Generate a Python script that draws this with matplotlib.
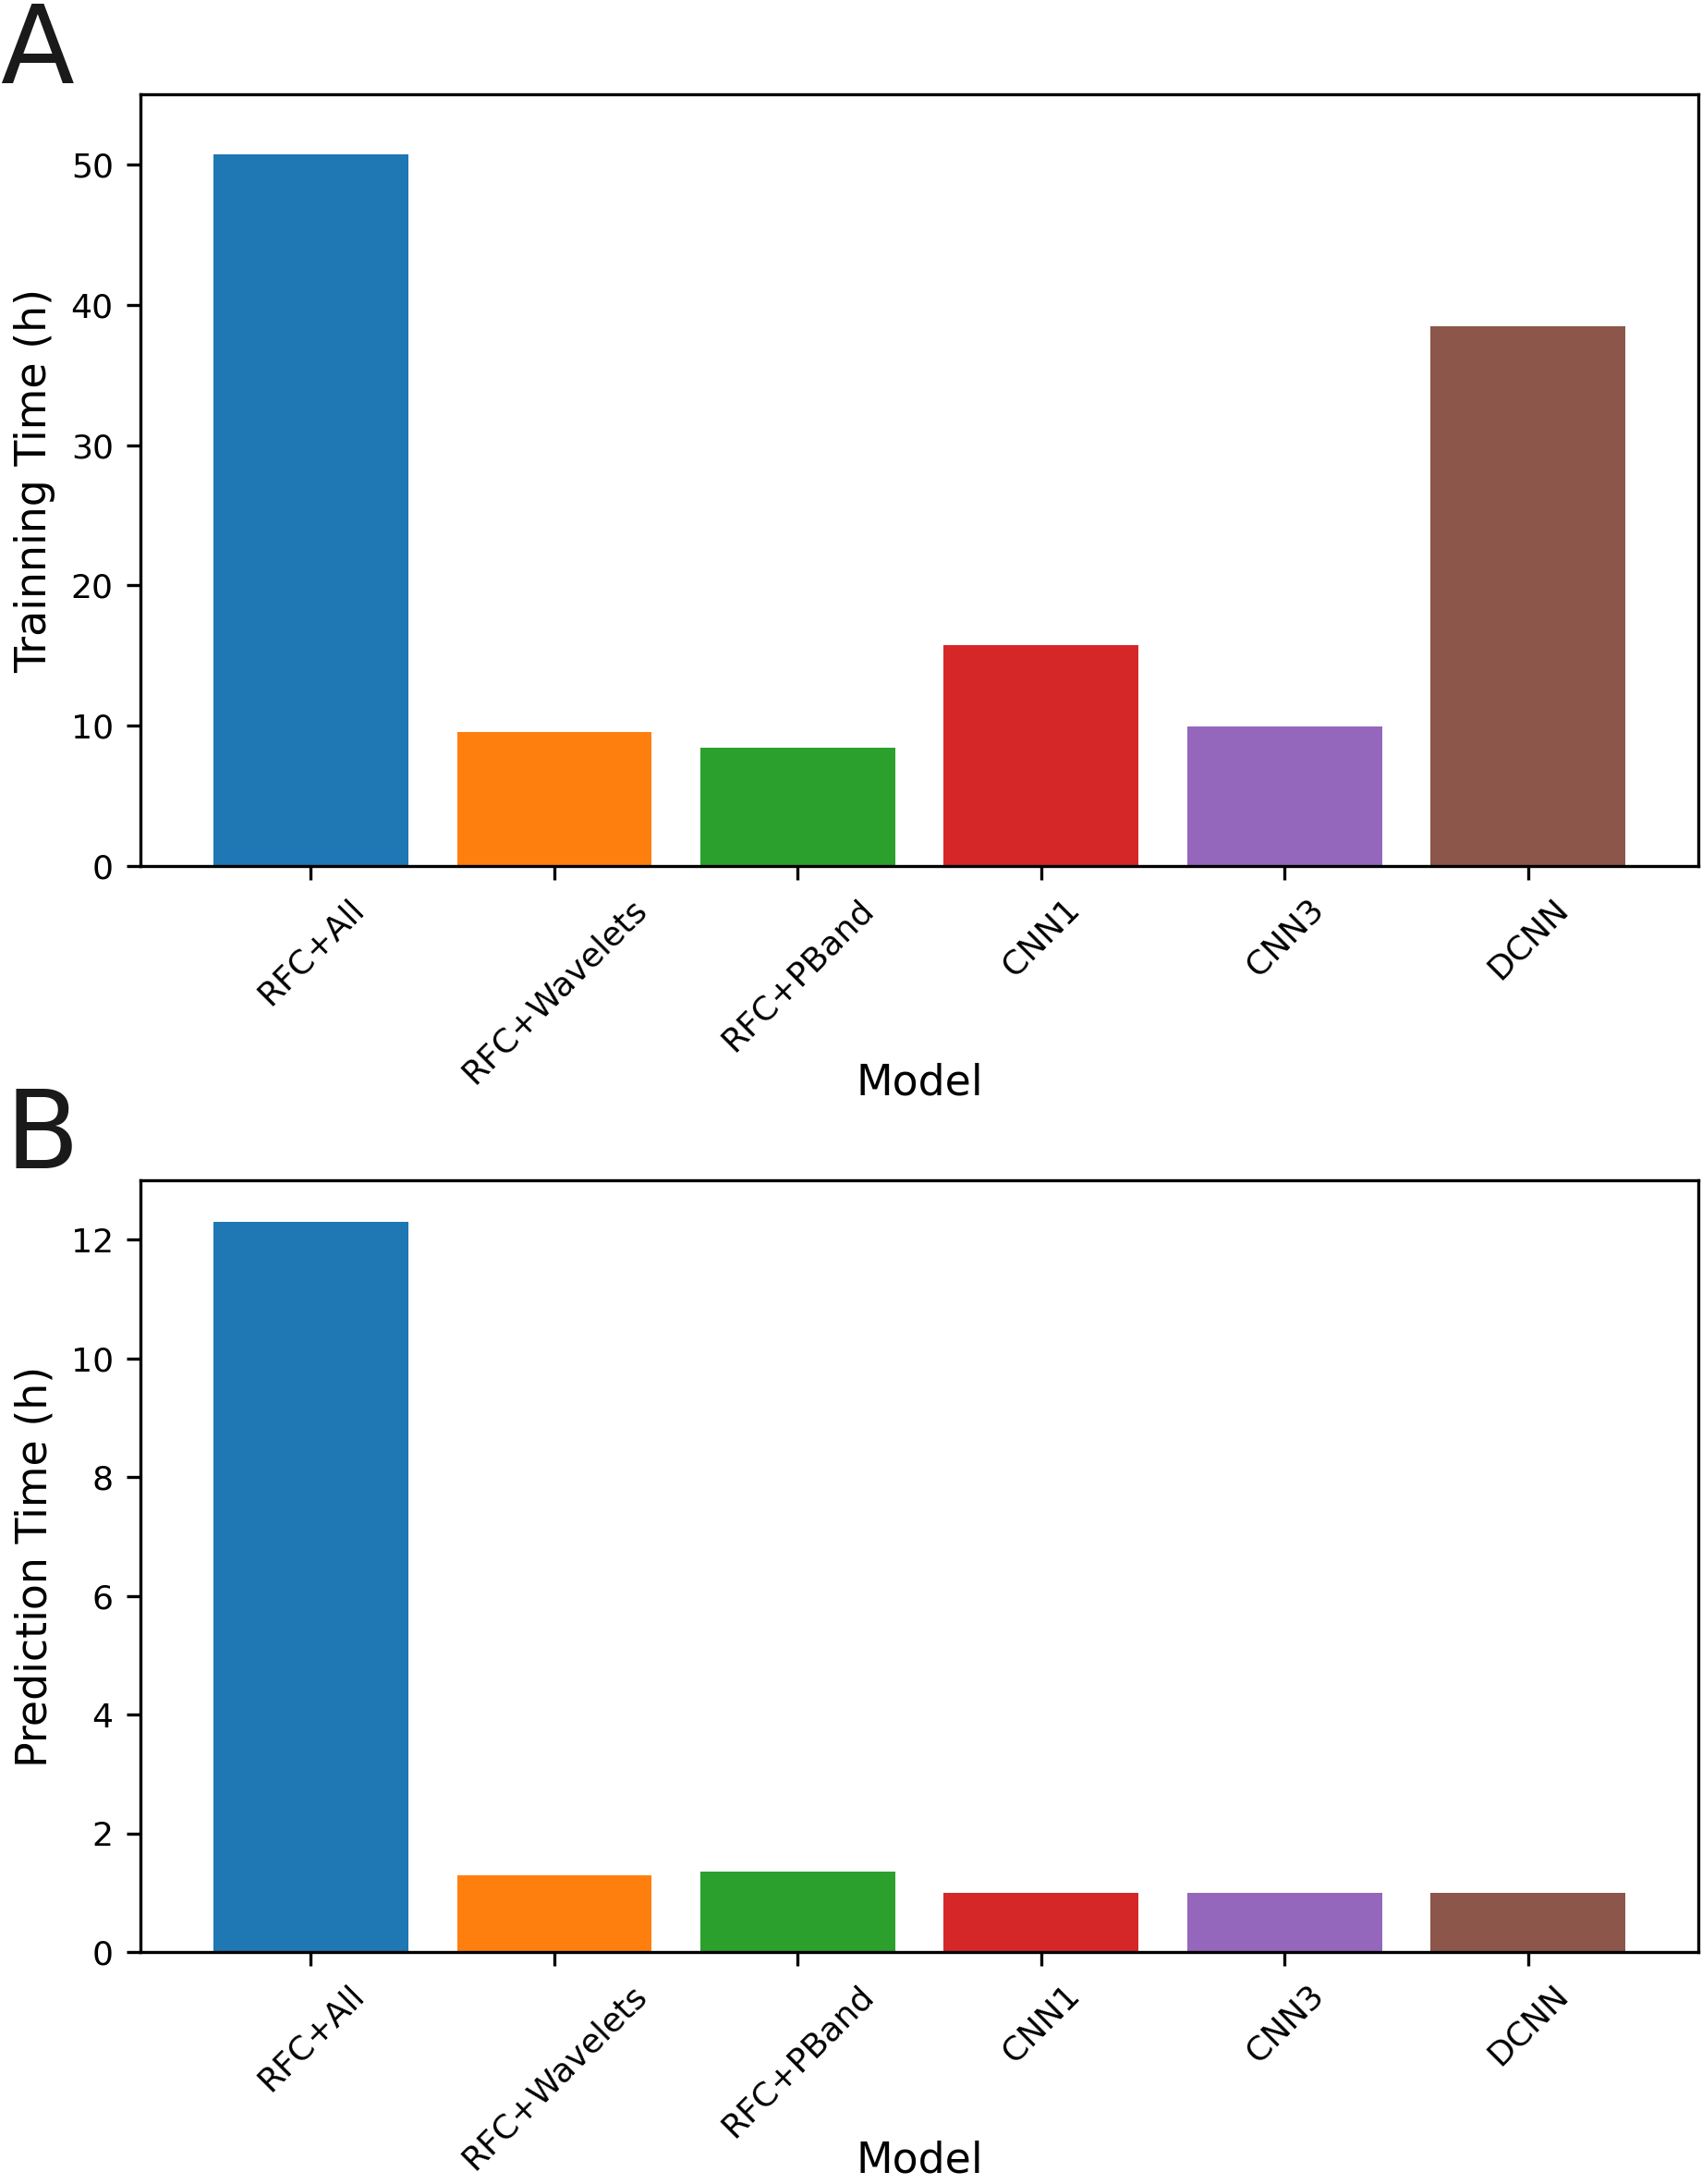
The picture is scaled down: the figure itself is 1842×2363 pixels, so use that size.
import matplotlib
matplotlib.use("Agg")
import matplotlib.pyplot as plt

# ----------------------------------------------------------------------
#  Data
# ----------------------------------------------------------------------
models = ["RFC+All", "RFC+Wavelets", "RFC+PBand", "CNN1", "CNN3", "DCNN"]
train_hours = [50.7, 9.56, 8.45, 15.77, 9.95, 38.5]
predict_hours = [12.30, 1.29, 1.36, 1.00, 0.99, 0.99]
colors = ["#1f77b4", "#ff7f0e", "#2ca02c", "#d62728", "#9467bd", "#8c564b"]

fig = plt.figure(figsize=(1842 / 300, 2363 / 300), dpi=300)

ax_a = fig.add_axes([0.0825, 0.6035, 0.9155, 0.3533])
ax_b = fig.add_axes([0.0825, 0.1062, 0.9155, 0.3534])


def draw_panel(ax, values, ylabel, ytop, yticks, label_y):
    x = range(len(models))
    ax.bar(x, values, width=0.8, color=colors)
    ax.set_xticks(list(x))
    ax.set_xticklabels(models, rotation=45, ha="center", fontsize=8.7)
    ax.set_yticks(yticks)
    ax.tick_params(axis="y", labelsize=8.7)
    ax.set_ylim(0, ytop)
    ax.set_xlim(-0.7, len(models) - 0.3)
    ax.set_xlabel("Model", fontsize=11)
    ax.xaxis.label.set_va("center")
    ax.xaxis.set_label_coords(0.5, label_y)
    ax.set_ylabel(ylabel, fontsize=11)


draw_panel(ax_a, train_hours, "Trainning Time (h)", 55, [0, 10, 20, 30, 40, 50], -0.281)
draw_panel(ax_b, predict_hours, "Prediction Time (h)", 13, [0, 2, 4, 6, 8, 10, 12], -0.27)

fig.text(0.0, 1.0, "A", fontsize=28, va="top", ha="left", color="#1a1a1a")
fig.text(0.003, 0.503, "B", fontsize=28, va="top", ha="left", color="#1a1a1a")

fig.savefig("out.png", dpi=300)
